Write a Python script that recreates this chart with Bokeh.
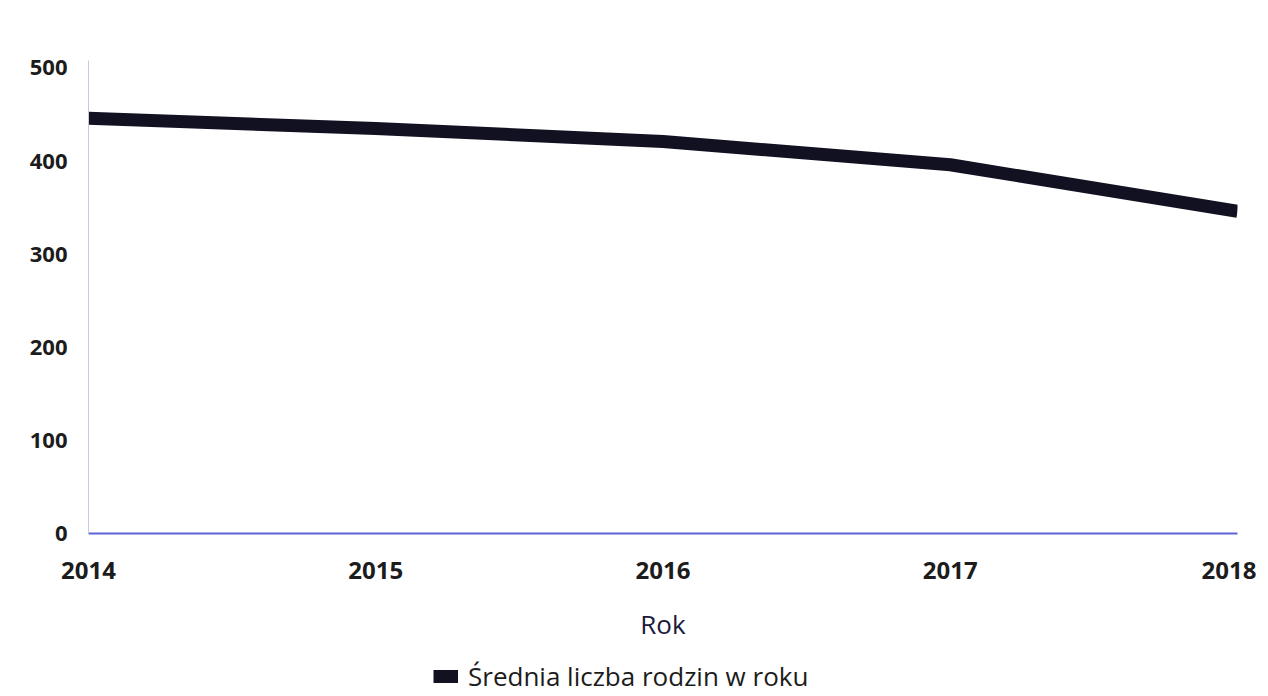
from bokeh.plotting import figure
from bokeh.layouts import column
from bokeh.models import Range1d, Legend, LegendItem, FixedTicker, NumeralTickFormatter
from bokeh.embed import file_html
from bokeh.resources import INLINE

years = [2014, 2015, 2016, 2017, 2018]
values = [446, 435, 421, 396, 346]
series_name = "Średnia liczba rodzin w roku"
x_title = "Rok"
y_ticks = [0, 100, 200, 300, 400, 500]

FONT = "Open Sans"
TXT = "#1c1c1c"
LINE_COLOR = "#111122"

p = figure(width=1256, height=658, output_backend="svg", toolbar_location=None,
           x_range=Range1d(2014, 2018), y_range=Range1d(0, 508))
p.min_border_left = 88
p.min_border_right = 19
p.min_border_top = 60
p.min_border_bottom = 125
p.outline_line_color = None
p.background_fill_color = "white"
p.border_fill_color = "white"

r = p.line(years, values, line_width=13, line_color=LINE_COLOR)

p.xgrid.visible = False
p.ygrid.visible = False

p.xaxis.ticker = FixedTicker(ticks=years)
p.yaxis.ticker = FixedTicker(ticks=y_ticks)
p.xaxis.formatter = NumeralTickFormatter(format="0")
for ax in (p.xaxis, p.yaxis):
    ax.major_tick_line_color = None
    ax.minor_tick_line_color = None
    ax.major_label_text_font = FONT
    ax.major_label_text_font_style = "bold"
    ax.major_label_text_color = TXT
p.xaxis.major_label_text_font_size = "24px"
p.yaxis.major_label_text_font_size = "22px"
p.xaxis.axis_line_color = "#5a63d8"
p.xaxis.axis_line_width = 2
p.yaxis.axis_line_color = "#c8c8e0"
p.yaxis.axis_line_width = 1
p.xaxis.major_label_standoff = 22
p.yaxis.major_label_standoff = 15

p.xaxis.axis_label = x_title
p.xaxis.axis_label_text_font = FONT
p.xaxis.axis_label_text_font_size = "26px"
p.xaxis.axis_label_text_font_style = "normal"
p.xaxis.axis_label_text_color = "#1a1a3a"
p.xaxis.axis_label_standoff = 24

# legend strip below the chart
p2 = figure(width=1256, height=36, output_backend="svg", toolbar_location=None,
            x_range=Range1d(0, 1), y_range=Range1d(0, 1))
p2.min_border = 0
p2.axis.visible = False
p2.grid.visible = False
p2.outline_line_color = None
p2.border_fill_color = "white"
p2.background_fill_color = "white"
lr = p2.line(x=[float("nan")], y=[float("nan")], line_width=13, line_color=LINE_COLOR)
legend = Legend(items=[LegendItem(label=series_name, renderers=[lr])],
                location=(345, 0), orientation="horizontal",
                label_text_font=FONT, label_text_font_size="26px",
                label_text_color=TXT, border_line_color=None,
                background_fill_alpha=0,
                glyph_width=25, glyph_height=14, label_standoff=10,
                padding=0, margin=0)
p2.add_layout(legend, "center")

layout = column(p, p2, spacing=0)
open("out.html", "w").write(file_html(layout, INLINE))
